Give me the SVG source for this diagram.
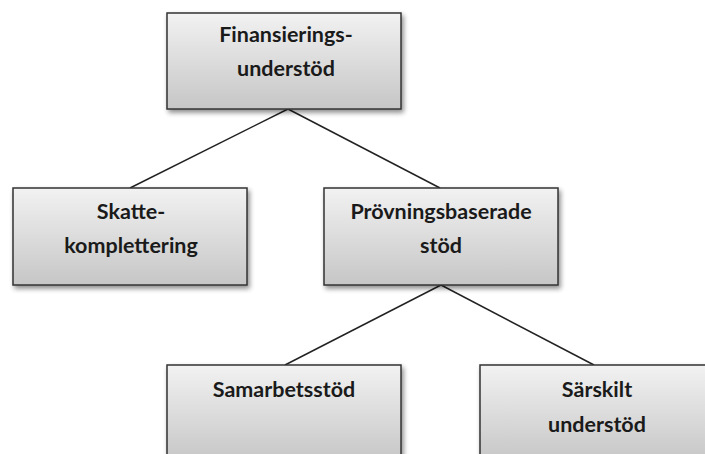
<svg xmlns="http://www.w3.org/2000/svg" width="705" height="454" viewBox="0 0 705 454">
<defs>
<linearGradient id="g" x1="0" y1="0" x2="0" y2="1">
<stop offset="0" stop-color="#f2f2f2"/>
<stop offset="1" stop-color="#c6c6c6"/>
</linearGradient>
<filter id="sh" x="-10%" y="-10%" width="130%" height="140%">
<feGaussianBlur in="SourceAlpha" stdDeviation="2.5"/>
<feOffset dx="2" dy="3" result="b"/>
<feComponentTransfer><feFuncA type="linear" slope="0.45"/></feComponentTransfer>
<feMerge><feMergeNode/><feMergeNode in="SourceGraphic"/></feMerge>
</filter>
</defs>
<style>
.box{fill:url(#g);stroke:#333;stroke-width:1.5;filter:url(#sh)}
.t{font-family:Lato,"Open Sans",sans-serif;font-weight:bold;font-size:21.5px;fill:#1a1a1a;text-anchor:middle}
.c{stroke:#222;stroke-width:1.5;fill:none}
</style>
<rect width="705" height="454" fill="#fff"/>
<g id="connectors">
<line class="c" x1="288" y1="109" x2="130" y2="188"/>
<line class="c" x1="288" y1="109" x2="440" y2="188"/>
<line class="c" x1="441" y1="285" x2="285" y2="365"/>
<line class="c" x1="441" y1="285" x2="594" y2="365"/>
</g>
<g id="finansieringsunderstod">
<rect class="box" x="167" y="13" width="234" height="96"/>
<text class="t" x="286" y="42">Finansierings-</text>
<text class="t" x="286" y="76">understöd</text>
</g>
<g id="skattekomplettering">
<rect class="box" x="13" y="188" width="234" height="97"/>
<text class="t" x="131" y="219">Skatte-</text>
<text class="t" x="131" y="253">komplettering</text>
</g>
<g id="provningsbaserade">
<rect class="box" x="324" y="188" width="234" height="97"/>
<text class="t" x="441" y="219">Prövningsbaserade</text>
<text class="t" x="441" y="253">stöd</text>
</g>
<g id="samarbetsstod">
<rect class="box" x="167" y="365" width="234" height="97"/>
<text class="t" x="284" y="397">Samarbetsstöd</text>
</g>
<g id="sarskilt">
<rect class="box" x="480" y="365" width="234" height="97"/>
<text class="t" x="597" y="397">Särskilt</text>
<text class="t" x="597" y="432">understöd</text>
</g>
</svg>
